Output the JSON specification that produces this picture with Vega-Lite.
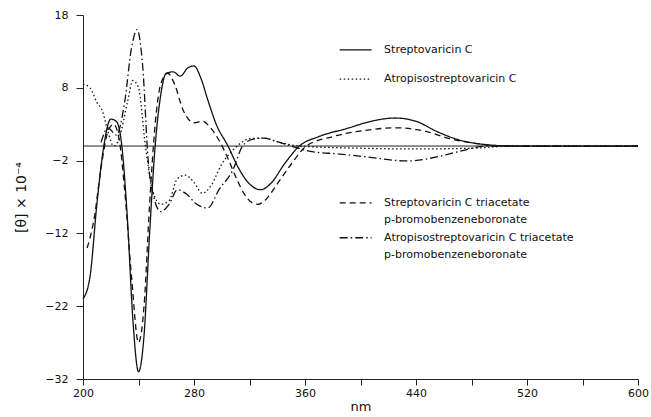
{
  "$schema": "https://vega.github.io/schema/vega-lite/v6.json",
  "width": 555,
  "height": 364,
  "autosize": {"type": "none"},
  "padding": {"left": 83, "top": 15, "right": 13, "bottom": 38},
  "background": "white",
  "config": {
    "view": {"stroke": null},
    "font": "DejaVu Sans",
    "axis": {"domainColor": "#222", "tickColor": "#222", "labelColor": "#111", "titleColor": "#111", "grid": false, "labelFont": "DejaVu Sans", "titleFont": "DejaVu Sans"}
  },
  "datasets": {
    "curves": [
      {"s": "A", "x": 200, "y": -21}, {"s": "A", "x": 205, "y": -18}, {"s": "A", "x": 210, "y": -8}, {"s": "A", "x": 215, "y": 0}, {"s": "A", "x": 220, "y": 3.7}, {"s": "A", "x": 224, "y": 3.4}, {"s": "A", "x": 228, "y": 0}, {"s": "A", "x": 232, "y": -10}, {"s": "A", "x": 236, "y": -24}, {"s": "A", "x": 240, "y": -31}, {"s": "A", "x": 244, "y": -26}, {"s": "A", "x": 248, "y": -12}, {"s": "A", "x": 252, "y": 0}, {"s": "A", "x": 256, "y": 7}, {"s": "A", "x": 260, "y": 10}, {"s": "A", "x": 265, "y": 10.2}, {"s": "A", "x": 270, "y": 9.6}, {"s": "A", "x": 276, "y": 10.8}, {"s": "A", "x": 280, "y": 11}, {"s": "A", "x": 285, "y": 9.3}, {"s": "A", "x": 290, "y": 6.3}, {"s": "A", "x": 296, "y": 3}, {"s": "A", "x": 304.5, "y": 0}, {"s": "A", "x": 312, "y": -3}, {"s": "A", "x": 320, "y": -5.2}, {"s": "A", "x": 328, "y": -6.0}, {"s": "A", "x": 336, "y": -5}, {"s": "A", "x": 345, "y": -2.5}, {"s": "A", "x": 356, "y": 0}, {"s": "A", "x": 370, "y": 1.3}, {"s": "A", "x": 390, "y": 2.4}, {"s": "A", "x": 410, "y": 3.5}, {"s": "A", "x": 425, "y": 3.85}, {"s": "A", "x": 440, "y": 3.4}, {"s": "A", "x": 455, "y": 2}, {"s": "A", "x": 470, "y": 0.9}, {"s": "A", "x": 490, "y": 0.2}, {"s": "A", "x": 510, "y": 0}, {"s": "A", "x": 600, "y": 0},

      {"s": "B", "x": 200, "y": 8.5}, {"s": "B", "x": 205, "y": 8}, {"s": "B", "x": 210, "y": 6}, {"s": "B", "x": 214, "y": 4.8}, {"s": "B", "x": 218, "y": 2}, {"s": "B", "x": 222, "y": 0}, {"s": "B", "x": 226, "y": 1}, {"s": "B", "x": 232, "y": 6}, {"s": "B", "x": 236, "y": 9}, {"s": "B", "x": 240, "y": 8}, {"s": "B", "x": 245, "y": 0}, {"s": "B", "x": 250, "y": -6}, {"s": "B", "x": 256, "y": -8}, {"s": "B", "x": 262, "y": -7.5}, {"s": "B", "x": 268, "y": -4.5}, {"s": "B", "x": 274, "y": -4}, {"s": "B", "x": 280, "y": -5}, {"s": "B", "x": 286, "y": -6.5}, {"s": "B", "x": 292, "y": -5.5}, {"s": "B", "x": 300, "y": -2.5}, {"s": "B", "x": 310, "y": -0.2}, {"s": "B", "x": 320, "y": 1}, {"s": "B", "x": 330, "y": 1.1}, {"s": "B", "x": 340, "y": 0.6}, {"s": "B", "x": 356, "y": 0}, {"s": "B", "x": 400, "y": -0.3}, {"s": "B", "x": 440, "y": -0.4}, {"s": "B", "x": 480, "y": -0.3}, {"s": "B", "x": 510, "y": 0}, {"s": "B", "x": 600, "y": 0},

      {"s": "C", "x": 203, "y": -14}, {"s": "C", "x": 208, "y": -10}, {"s": "C", "x": 213, "y": -3}, {"s": "C", "x": 218, "y": 2}, {"s": "C", "x": 222, "y": 3}, {"s": "C", "x": 226, "y": 1}, {"s": "C", "x": 230, "y": -6}, {"s": "C", "x": 235, "y": -18}, {"s": "C", "x": 240, "y": -27}, {"s": "C", "x": 244, "y": -22}, {"s": "C", "x": 248, "y": -8}, {"s": "C", "x": 252, "y": 3}, {"s": "C", "x": 256, "y": 8.5}, {"s": "C", "x": 261, "y": 10}, {"s": "C", "x": 266, "y": 8.5}, {"s": "C", "x": 272, "y": 5}, {"s": "C", "x": 280, "y": 3.2}, {"s": "C", "x": 286, "y": 3.4}, {"s": "C", "x": 292, "y": 2.5}, {"s": "C", "x": 298, "y": 0.8}, {"s": "C", "x": 304, "y": -1.5}, {"s": "C", "x": 310, "y": -4.2}, {"s": "C", "x": 316, "y": -6.5}, {"s": "C", "x": 322, "y": -7.8}, {"s": "C", "x": 326, "y": -8.0}, {"s": "C", "x": 332, "y": -7.3}, {"s": "C", "x": 340, "y": -5.2}, {"s": "C", "x": 350, "y": -2.5}, {"s": "C", "x": 361, "y": 0}, {"s": "C", "x": 380, "y": 1.3}, {"s": "C", "x": 405, "y": 2.2}, {"s": "C", "x": 426, "y": 2.5}, {"s": "C", "x": 445, "y": 2.1}, {"s": "C", "x": 465, "y": 1}, {"s": "C", "x": 485, "y": 0.3}, {"s": "C", "x": 505, "y": 0}, {"s": "C", "x": 600, "y": 0},

      {"s": "D", "x": 213, "y": 0.5}, {"s": "D", "x": 218, "y": 2.5}, {"s": "D", "x": 224, "y": 1.5}, {"s": "D", "x": 230, "y": 6}, {"s": "D", "x": 235, "y": 13.5}, {"s": "D", "x": 239, "y": 16}, {"s": "D", "x": 243, "y": 11}, {"s": "D", "x": 247, "y": -2}, {"s": "D", "x": 251, "y": -7}, {"s": "D", "x": 256, "y": -9}, {"s": "D", "x": 262, "y": -8}, {"s": "D", "x": 268, "y": -6}, {"s": "D", "x": 274, "y": -6.5}, {"s": "D", "x": 282, "y": -8}, {"s": "D", "x": 290, "y": -8.5}, {"s": "D", "x": 298, "y": -6}, {"s": "D", "x": 308, "y": -3.3}, {"s": "D", "x": 315, "y": 0}, {"s": "D", "x": 322, "y": 0.9}, {"s": "D", "x": 330, "y": 1.1}, {"s": "D", "x": 340, "y": 0.6}, {"s": "D", "x": 350, "y": 0}, {"s": "D", "x": 363, "y": -0.7}, {"s": "D", "x": 385, "y": -1.1}, {"s": "D", "x": 405, "y": -1.5}, {"s": "D", "x": 433, "y": -2.05}, {"s": "D", "x": 455, "y": -1.5}, {"s": "D", "x": 470, "y": -0.8}, {"s": "D", "x": 491, "y": 0}, {"s": "D", "x": 600, "y": 0}
    ],
    "legendLines": [
      {"s": "A", "x": 385, "x2": 408, "y": 13.2},
      {"s": "B", "x": 385, "x2": 408, "y": 9.2},
      {"s": "C", "x": 385, "x2": 408, "y": -7.8},
      {"s": "D", "x": 385, "x2": 408, "y": -12.6}
    ],
    "legendText": [
      {"x": 417, "y": 13.2, "t": "Streptovaricin  C"},
      {"x": 417, "y": 9.2, "t": "Atropisostreptovaricin  C"},
      {"x": 417, "y": -7.8, "t": "Streptovaricin  C  triacetate"},
      {"x": 417, "y": -10.2, "t": "p-bromobenzeneboronate"},
      {"x": 417, "y": -12.6, "t": "Atropisostreptovaricin  C  triacetate"},
      {"x": 417, "y": -15.0, "t": "p-bromobenzeneboronate"}
    ],
    "base": [{"x": 200, "x2": 600, "y": 0}]
  },
  "layer": [
    {
      "data": {"name": "base"},
      "mark": {"type": "rule", "color": "#222", "strokeWidth": 1},
      "encoding": {
        "x": {"field": "x", "type": "quantitative", "scale": {"domain": [200, 600], "nice": false},
          "axis": {"values": [200, 240, 280, 320, 360, 400, 440, 480, 520, 560, 600], "labelExpr": "(datum.value - 200) % 80 == 0 ? datum.label : ''", "title": "nm", "titleFontSize": 13, "titleFontWeight": "normal", "titlePadding": 2, "labelFontSize": 11, "labelPadding": 2, "tickSize": 6, "labelFlush": false, "format": "d"}},
        "x2": {"field": "x2"},
        "y": {"field": "y", "type": "quantitative", "scale": {"domain": [-32, 18], "nice": false, "zero": false},
          "axis": {"values": [18, 13, 8, 3, -2, -7, -12, -17, -22, -27, -32], "labelExpr": "indexof([18, 8, -2, -12, -22, -32], datum.value) >= 0 ? datum.label : ''", "title": "[θ] × 10⁻⁴", "titleFontSize": 14, "titleFontWeight": "normal", "titlePadding": 16, "labelFontSize": 11, "labelPadding": 8, "tickSize": 7, "labelFlush": false, "format": "d"}}
      }
    },
    {
      "data": {"name": "curves"},
      "mark": {"type": "line", "interpolate": "monotone", "color": "#111", "strokeWidth": 1.3},
      "encoding": {
        "x": {"field": "x", "type": "quantitative"},
        "y": {"field": "y", "type": "quantitative"},
        "detail": {"field": "s"},
        "strokeDash": {"field": "s", "type": "nominal", "scale": {"domain": ["A", "B", "C", "D"], "range": [[1, 0], [1.5, 2.5], [6, 4], [8, 3, 1.5, 3]]}, "legend": null}
      }
    },
    {
      "data": {"name": "legendLines"},
      "mark": {"type": "rule", "color": "#111", "strokeWidth": 1.3},
      "encoding": {
        "x": {"field": "x", "type": "quantitative"},
        "x2": {"field": "x2"},
        "y": {"field": "y", "type": "quantitative"},
        "strokeDash": {"field": "s", "type": "nominal", "scale": {"domain": ["A", "B", "C", "D"], "range": [[1, 0], [1.5, 2.5], [6, 4], [8, 3, 1.5, 3]]}, "legend": null}
      }
    },
    {
      "data": {"name": "legendText"},
      "mark": {"type": "text", "align": "left", "baseline": "middle", "fontSize": 11, "color": "#111"},
      "encoding": {
        "x": {"field": "x", "type": "quantitative"},
        "y": {"field": "y", "type": "quantitative"},
        "text": {"field": "t"}
      }
    }
  ]
}
